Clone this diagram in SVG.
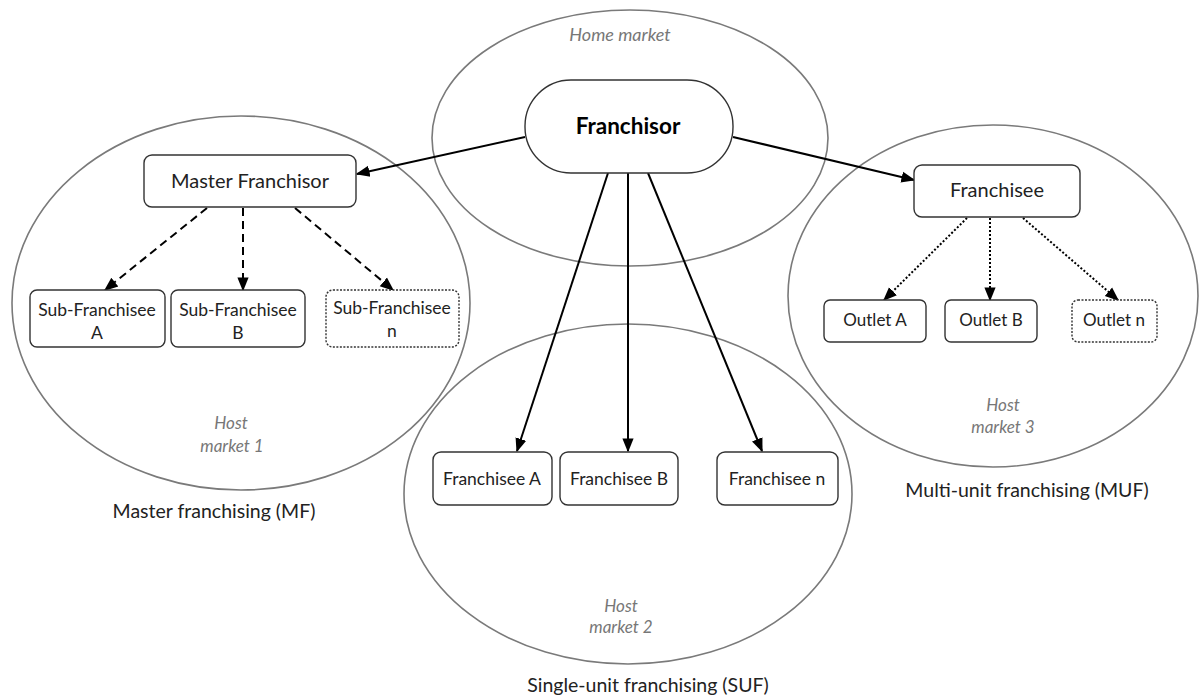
<svg xmlns="http://www.w3.org/2000/svg" width="1199" height="699" viewBox="0 0 1199 699">
<defs>
<marker id="ahs" viewBox="0 0 10 10" refX="9" refY="5" markerWidth="14" markerHeight="14" markerUnits="userSpaceOnUse" orient="auto">
<path d="M0,1 L10,5 L0,9 z" fill="#000"/>
</marker>
<style>
.mk{fill:none;stroke:#7a7a7a;stroke-width:1.6}
.box{fill:#fff;stroke:#333;stroke-width:1.4}
.dotbox{fill:#fff;stroke:#333;stroke-width:1.4;stroke-dasharray:2 1.5}
.t{font-family:Lato,"Open Sans",sans-serif;font-size:17.5px;fill:#222;text-anchor:middle}
.it{font-family:Lato,"Open Sans",sans-serif;font-size:17px;font-style:italic;fill:#777;text-anchor:middle}
.cap{font-family:Lato,"Open Sans",sans-serif;font-size:19.5px;fill:#222;text-anchor:middle}
.solid{stroke:#000;stroke-width:2;fill:none}
.dash{stroke:#000;stroke-width:2;fill:none;stroke-dasharray:8 5}
.dot{stroke:#000;stroke-width:2;fill:none;stroke-dasharray:2 2}
</style>
</defs>
<rect width="1199" height="699" fill="#fff"/>
<g id="markets">
<ellipse id="home-market" class="mk" cx="630" cy="138" rx="198" ry="128"/>
<ellipse id="host-market-1" class="mk" cx="241" cy="303" rx="229" ry="187"/>
<ellipse id="host-market-3" class="mk" cx="993" cy="296" rx="205" ry="171"/>
<ellipse id="host-market-2" class="mk" cx="628" cy="494" rx="224" ry="170"/>
<text class="it" x="620" y="41" style="font-size:18px">Home market</text>
<text class="it" x="231" y="429">Host</text>
<text class="it" x="232" y="452">market 1</text>
<text class="it" x="1003" y="411">Host</text>
<text class="it" x="1003" y="433">market 3</text>
<text class="it" x="621" y="612">Host</text>
<text class="it" x="621" y="633">market 2</text>
<text class="cap" x="214" y="518">Master franchising (MF)</text>
<text class="cap" x="1027" y="497">Multi-unit franchising (MUF)</text>
<text class="cap" x="648" y="692">Single-unit franchising (SUF)</text>
</g>
<g id="connectors">
<line class="solid" x1="525" y1="137" x2="357" y2="174" marker-end="url(#ahs)"/>
<line class="solid" x1="733" y1="137" x2="914" y2="180" marker-end="url(#ahs)"/>
<line class="solid" x1="608" y1="173" x2="517" y2="451" marker-end="url(#ahs)"/>
<line class="solid" x1="628" y1="173" x2="628" y2="451" marker-end="url(#ahs)"/>
<line class="solid" x1="648" y1="173" x2="762" y2="451" marker-end="url(#ahs)"/>
<line class="dash" x1="207" y1="208" x2="105" y2="290" marker-end="url(#ahs)"/>
<line class="dash" x1="243" y1="208" x2="243" y2="290" marker-end="url(#ahs)"/>
<line class="dash" x1="295" y1="208" x2="393" y2="290" marker-end="url(#ahs)"/>
<line class="dot" x1="967" y1="218" x2="884" y2="300" marker-end="url(#ahs)"/>
<line class="dot" x1="990" y1="218" x2="990" y2="300" marker-end="url(#ahs)"/>
<line class="dot" x1="1023" y1="218" x2="1118" y2="300" marker-end="url(#ahs)"/>
</g>
<g id="franchisor">
<rect class="box" x="525" y="80" width="208" height="93" rx="46"/>
<text class="t" x="628" y="134" style="font-size:22.5px;font-weight:bold;fill:#000">Franchisor</text>
</g>
<g id="master-franchisor">
<rect class="box" x="144" y="155" width="212" height="52" rx="8"/>
<text class="t" x="250" y="188" style="font-size:20px">Master Franchisor</text>
</g>
<g id="sub-franchisee-a">
<rect class="box" x="30" y="290" width="135" height="57" rx="7"/>
<text class="t" x="97" y="316">Sub-Franchisee</text>
<text class="t" x="97" y="339">A</text>
</g>
<g id="sub-franchisee-b">
<rect class="box" x="171" y="290" width="134" height="57" rx="7"/>
<text class="t" x="238" y="316">Sub-Franchisee</text>
<text class="t" x="238" y="339">B</text>
</g>
<g id="sub-franchisee-n">
<rect class="dotbox" x="326" y="290" width="133" height="57" rx="7"/>
<text class="t" x="392" y="314">Sub-Franchisee</text>
<text class="t" x="392" y="337">n</text>
</g>
<g id="franchisee">
<rect class="box" x="914" y="165" width="166" height="52" rx="8"/>
<text class="t" x="997" y="197" style="font-size:20px">Franchisee</text>
</g>
<g id="outlet-a">
<rect class="box" x="824" y="300" width="102" height="42" rx="6"/>
<text class="t" x="875" y="326" style="font-size:17px">Outlet A</text>
</g>
<g id="outlet-b">
<rect class="box" x="945" y="300" width="92" height="42" rx="6"/>
<text class="t" x="991" y="326" style="font-size:17px">Outlet B</text>
</g>
<g id="outlet-n">
<rect class="dotbox" x="1072" y="300" width="85" height="42" rx="6"/>
<text class="t" x="1114" y="326" style="font-size:17px">Outlet n</text>
</g>
<g id="franchisee-a">
<rect class="box" x="433" y="452" width="119" height="53" rx="8"/>
<text class="t" x="492" y="485">Franchisee A</text>
</g>
<g id="franchisee-b">
<rect class="box" x="560" y="452" width="118" height="53" rx="8"/>
<text class="t" x="619" y="485">Franchisee B</text>
</g>
<g id="franchisee-n">
<rect class="box" x="717" y="452" width="121" height="53" rx="8"/>
<text class="t" x="777" y="485">Franchisee n</text>
</g>
</svg>
